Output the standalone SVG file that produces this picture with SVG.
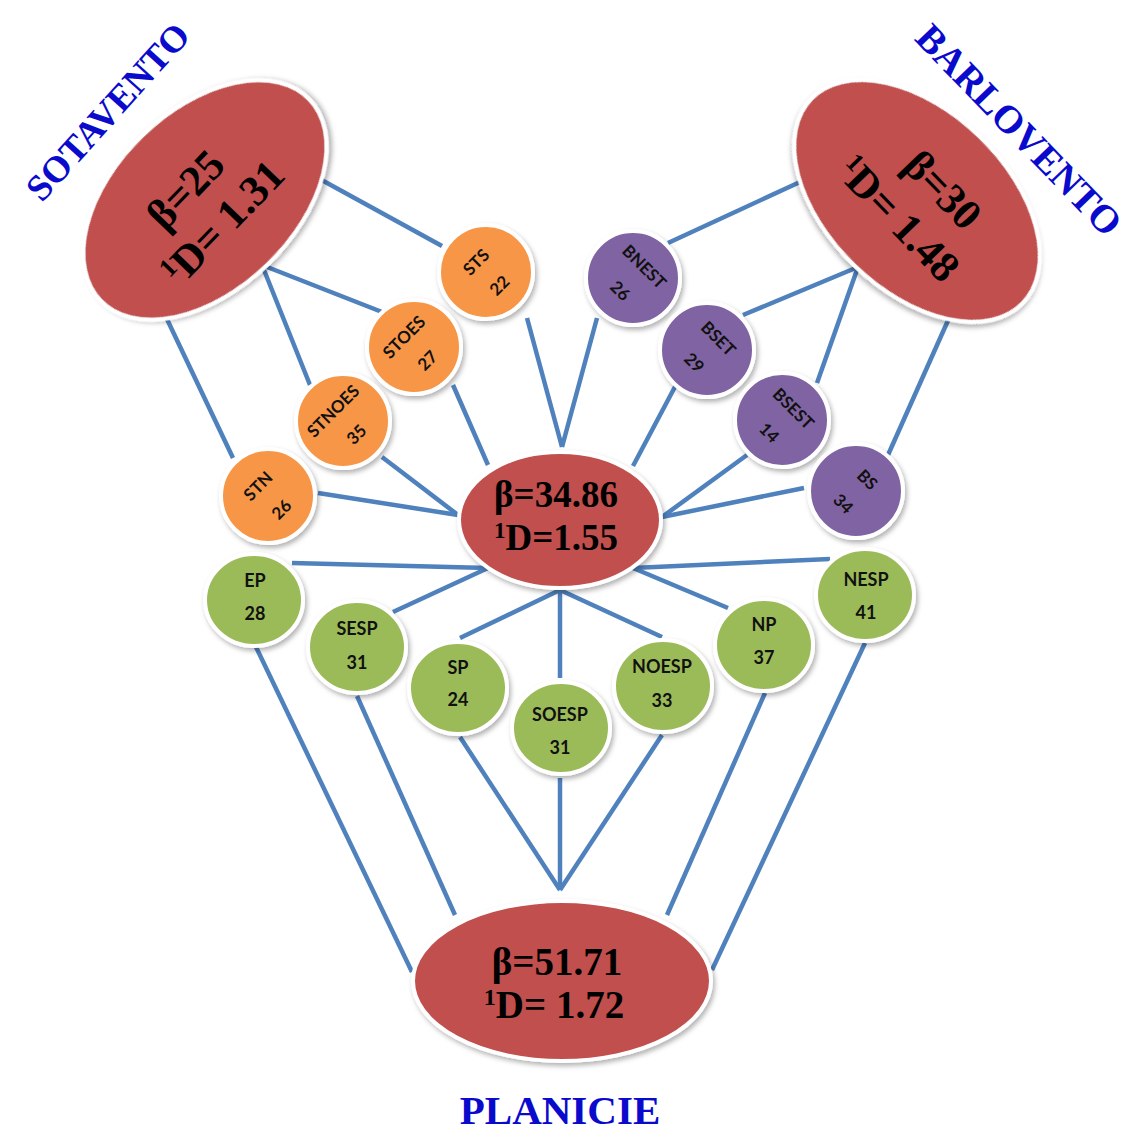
<svg xmlns="http://www.w3.org/2000/svg" width="1129" height="1135" viewBox="0 0 1129 1135">
<defs>
<filter id="sh" x="-20%" y="-20%" width="140%" height="140%">
<feDropShadow dx="2" dy="3" stdDeviation="2.5" flood-color="#000" flood-opacity="0.3"/>
</filter>
<style>
.c line{stroke:#4F81BD;stroke-width:4.5;stroke-linecap:butt}
.big{fill:#C0504D;stroke:#fff;stroke-width:4;filter:url(#sh)}
.or{fill:#F79646;stroke:#fff;stroke-width:4;filter:url(#sh)}
.pu{fill:#8064A2;stroke:#fff;stroke-width:4;filter:url(#sh)}
.gr{fill:#9BBB59;stroke:#fff;stroke-width:4;filter:url(#sh)}
.bt{font-family:"Liberation Serif","Times New Roman",serif;font-weight:bold;fill:#000;text-anchor:middle}
.st{font-family:Lato,"Open Sans",sans-serif;font-weight:bold;font-size:17px;fill:#111;text-anchor:middle}
.gt{font-family:Lato,"Open Sans",sans-serif;font-weight:bold;font-size:18px;fill:#111;text-anchor:middle}
.bl{font-family:"Liberation Serif","Times New Roman",serif;font-weight:bold;fill:#0A0ACD;text-anchor:middle}
</style>
</defs>
<rect width="1129" height="1135" fill="#fff"/>

<g id="connectors" class="c">
<line x1="318" y1="178" x2="442" y2="246"/>
<line x1="262" y1="265" x2="382" y2="312"/>
<line x1="262" y1="265" x2="310" y2="385"/>
<line x1="165" y1="315" x2="233" y2="458"/>
<line x1="527" y1="318" x2="562" y2="447"/>
<line x1="453" y1="385" x2="488" y2="465"/>
<line x1="382" y1="457" x2="458" y2="515"/>
<line x1="318" y1="493" x2="458" y2="515"/>
<line x1="800" y1="182" x2="668" y2="243"/>
<line x1="858" y1="267" x2="743" y2="315"/>
<line x1="858" y1="267" x2="817" y2="383"/>
<line x1="950" y1="316" x2="888" y2="455"/>
<line x1="597" y1="318" x2="562" y2="447"/>
<line x1="677" y1="383" x2="633" y2="466"/>
<line x1="747" y1="455" x2="662" y2="517"/>
<line x1="804" y1="488" x2="662" y2="517"/>
<line x1="292" y1="563" x2="488" y2="568"/>
<line x1="393" y1="612" x2="488" y2="568"/>
<line x1="460" y1="638" x2="560" y2="590"/>
<line x1="560" y1="678" x2="560" y2="590"/>
<line x1="662" y1="637" x2="560" y2="590"/>
<line x1="728" y1="608" x2="633" y2="568"/>
<line x1="830" y1="559" x2="633" y2="568"/>
<line x1="256" y1="647" x2="412" y2="972"/>
<line x1="357" y1="696" x2="455" y2="915"/>
<line x1="460" y1="737" x2="560" y2="890"/>
<line x1="560" y1="778" x2="560" y2="890"/>
<line x1="662" y1="735" x2="560" y2="890"/>
<line x1="765" y1="693" x2="667" y2="915"/>
<line x1="865" y1="643" x2="712" y2="970"/>
</g>

<g id="sotavento">
<ellipse class="big" cx="0" cy="0" rx="145" ry="90" transform="translate(205,200) rotate(-44)"/>
<g transform="translate(205,200) rotate(-46)">
<text class="bt" font-size="43" x="-6" y="-7">β=25</text>
<text class="bt" font-size="43" x="-4" y="43"><tspan font-size="26" dy="-14">1</tspan><tspan dy="14">D= 1.31</tspan></text>
</g>
</g>

<g id="barlovento">
<ellipse class="big" cx="0" cy="0" rx="147" ry="90" transform="translate(917,201) rotate(44)"/>
<g transform="translate(917,201) rotate(46)">
<text class="bt" font-size="43" x="10" y="-12">β=30</text>
<text class="bt" font-size="43" x="0" y="40"><tspan font-size="26" dy="-14">1</tspan><tspan dy="14">D= 1.48</tspan></text>
</g>
</g>

<g id="centro">
<ellipse class="big" cx="560" cy="520" rx="101" ry="68"/>
<text class="bt" font-size="37" x="556" y="507">β=34.86</text>
<text class="bt" font-size="37" x="556" y="550"><tspan font-size="23" dy="-12">1</tspan><tspan dy="12">D=1.55</tspan></text>
</g>

<g id="planicie">
<ellipse class="big" cx="562" cy="981" rx="149" ry="80"/>
<text class="bt" font-size="39" x="557" y="975">β=51.71</text>
<text class="bt" font-size="39" x="554" y="1018"><tspan font-size="24" dy="-13">1</tspan><tspan dy="13">D= 1.72</tspan></text>
</g>

<g id="STS"><circle class="or" cx="486" cy="272" r="47"/><g transform="translate(486,272) rotate(-45)"><text class="st" y="-8">STS</text><text class="st" y="25">22</text></g></g>
<g id="STOES"><circle class="or" cx="414" cy="347" r="47"/><g transform="translate(414,347) rotate(-45)"><text class="st" y="-8">STOES</text><text class="st" y="25">27</text></g></g>
<g id="STNOES"><circle class="or" cx="343" cy="421" r="47"/><g transform="translate(343,421) rotate(-45)"><text class="st" y="-8">STNOES</text><text class="st" y="25">35</text></g></g>
<g id="STN"><circle class="or" cx="268" cy="496" r="47"/><g transform="translate(268,496) rotate(-45)"><text class="st" y="-8">STN</text><text class="st" y="25">26</text></g></g>

<g id="BNEST"><circle class="pu" cx="633" cy="278" r="47"/><g transform="translate(633,278) rotate(45)"><text class="st" y="-10">BNEST</text><text class="st" y="24">26</text></g></g>
<g id="BSET"><circle class="pu" cx="707" cy="350" r="47"/><g transform="translate(707,350) rotate(45)"><text class="st" y="-10">BSET</text><text class="st" y="24">29</text></g></g>
<g id="BSEST"><circle class="pu" cx="782" cy="420" r="47"/><g transform="translate(782,420) rotate(45)"><text class="st" y="-10">BSEST</text><text class="st" y="24">14</text></g></g>
<g id="BS"><circle class="pu" cx="856" cy="491" r="47"/><g transform="translate(856,491) rotate(45)"><text class="st" y="-10">BS</text><text class="st" y="24">34</text></g></g>

<g id="EP"><ellipse class="gr" cx="254" cy="600" rx="49" ry="46"/><text class="gt" x="255" y="587">EP</text><text class="gt" x="255" y="620">28</text></g>
<g id="SESP"><ellipse class="gr" cx="357" cy="647" rx="49" ry="46"/><text class="gt" x="357" y="635">SESP</text><text class="gt" x="357" y="669">31</text></g>
<g id="SP"><ellipse class="gr" cx="458" cy="688" rx="49" ry="46"/><text class="gt" x="458" y="674">SP</text><text class="gt" x="458" y="706">24</text></g>
<g id="SOESP"><ellipse class="gr" cx="561" cy="728" rx="49" ry="46"/><text class="gt" x="560" y="721">SOESP</text><text class="gt" x="560" y="754">31</text></g>
<g id="NOESP"><ellipse class="gr" cx="663" cy="686" rx="49" ry="46"/><text class="gt" x="662" y="673">NOESP</text><text class="gt" x="662" y="707">33</text></g>
<g id="NP"><ellipse class="gr" cx="764" cy="645" rx="49" ry="46"/><text class="gt" x="764" y="631">NP</text><text class="gt" x="764" y="664">37</text></g>
<g id="NESP"><ellipse class="gr" cx="865" cy="595" rx="49" ry="46"/><text class="gt" x="866" y="586">NESP</text><text class="gt" x="866" y="619">41</text></g>

<g id="labels">
<text class="bl" font-size="37" transform="translate(108,112) rotate(-48)" y="12">SOTAVENTO</text>
<text class="bl" font-size="39" transform="translate(1019,130) rotate(46)" y="13">BARLOVENTO</text>
<text class="bl" font-size="41" x="560" y="1124">PLANICIE</text>
</g>
</svg>
